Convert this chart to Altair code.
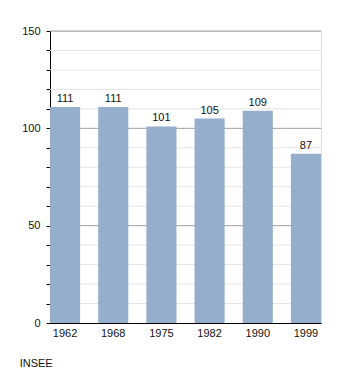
import altair as alt
import pandas as pd

years = ["1962", "1968", "1975", "1982", "1990", "1999"]
values = [111, 111, 101, 105, 109, 87]
minor_grid = [10, 20, 30, 40, 60, 70, 80, 90, 110, 120, 130, 140]
major_grid = [50, 100, 150]
source = "INSEE"

df = pd.DataFrame({"year": years, "value": values})
minor_df = pd.DataFrame({"v": minor_grid})
major_df = pd.DataFrame({"v": major_grid})

yscale = alt.Scale(domain=[0, 150], nice=False, zero=True)
font = "Liberation Sans"

yaxis = alt.Axis(
    title=None,
    values=list(range(0, 151, 10)),
    labelExpr="datum.value % 50 == 0 ? datum.label : ''",
    grid=False, domainColor="black", tickColor="black", tickSize=4,
    labelFontSize=11, labelColor="#111", labelFont=font, labelPadding=6,
)

minor = alt.Chart(minor_df).mark_rule(color="#e4e4e4", strokeWidth=1).encode(
    y=alt.Y("v:Q", scale=yscale, axis=yaxis)
)
major = alt.Chart(major_df).mark_rule(color="#a0a0a0", strokeWidth=1).encode(
    y=alt.Y("v:Q", scale=yscale, axis=yaxis)
)

bars = alt.Chart(df).mark_bar(color="#94aecb").encode(
    x=alt.X(
        "year:N",
        sort=years,
        scale=alt.Scale(paddingInner=0.375, paddingOuter=0),
        axis=alt.Axis(
            title=None, labelAngle=0, domainColor="black", ticks=False,
            labelFontSize=11, labelColor="#111", labelFont=font, labelPadding=4,
        ),
    ),
    y=alt.Y("value:Q", scale=yscale, axis=yaxis),
)

labels = alt.Chart(df).mark_text(
    dy=-8, fontSize=11, font=font, color="#111"
).encode(
    x=alt.X("year:N", sort=years),
    y=alt.Y("value:Q", scale=yscale, axis=yaxis),
    text=alt.Text("value:Q"),
)

chart = (
    alt.layer(minor, major, bars, labels)
    .properties(
        width=271,
        height=292,
        title=alt.TitleParams(
            source, orient="bottom", anchor="start", dx=-2, offset=20,
            fontSize=11, font=font, fontWeight="normal", color="#111",
        ),
        autosize=alt.AutoSizeParams(type="none"),
        padding={"left": 50, "top": 31, "right": 29, "bottom": 50},
    )
    .configure_view(stroke=None)
    .configure(background="white")
)

chart.save("out.html", embed_options={"renderer": "svg", "actions": False})
